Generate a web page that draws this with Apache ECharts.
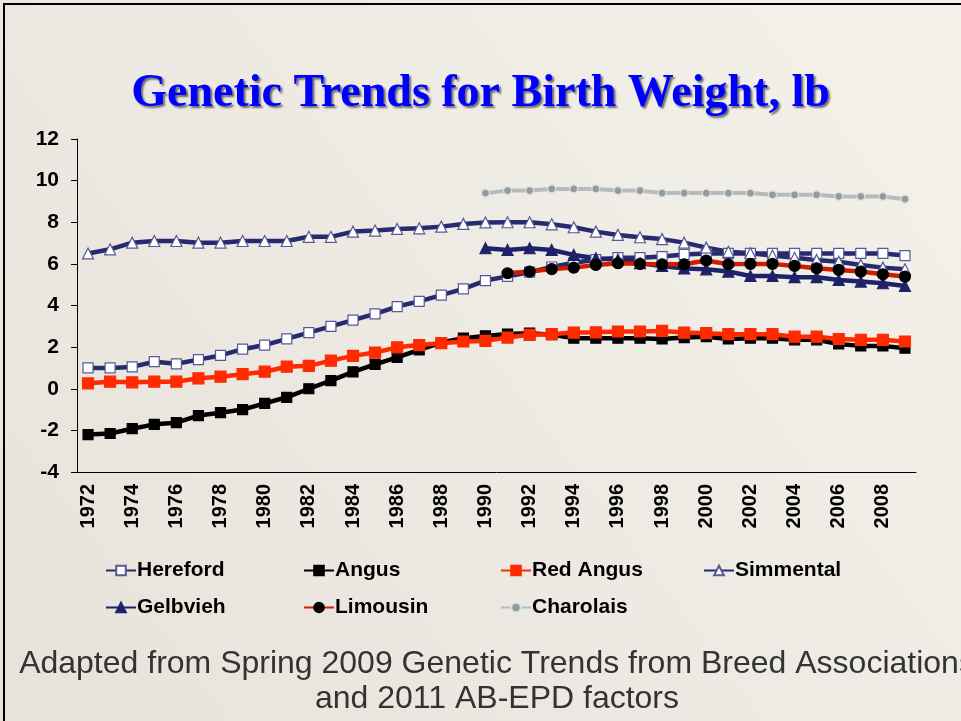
<!DOCTYPE html>
<html><head><meta charset="utf-8">
<script src="https://cdn.jsdelivr.net/npm/echarts@6/dist/echarts.min.js"></script>
<style>html,body{margin:0;padding:0;}#c{width:961px;height:721px;}</style>
</head><body><div id="c"></div>
<script>
const years = ['1972','1973','1974','1975','1976','1977','1978','1979','1980','1981',
  '1982','1983','1984','1985','1986','1987','1988','1989','1990','1991',
  '1992','1993','1994','1995','1996','1997','1998','1999','2000','2001',
  '2002','2003','2004','2005','2006','2007','2008','2009'];

const hereford = [1.0,1.0,1.05,1.3,1.2,1.4,1.6,1.9,2.1,2.4,
  2.7,3.0,3.3,3.6,3.95,4.2,4.5,4.8,5.2,5.4,
  5.6,5.85,6.05,6.2,6.3,6.3,6.35,6.45,6.5,6.5,
  6.5,6.5,6.5,6.5,6.5,6.5,6.5,6.4];
const angus = [-2.2,-2.15,-1.92,-1.71,-1.63,-1.29,-1.15,-1.0,-0.7,-0.41,
  0.0,0.39,0.81,1.17,1.51,1.87,2.22,2.43,2.54,2.63,
  2.67,2.6,2.43,2.43,2.43,2.43,2.39,2.46,2.5,2.39,
  2.43,2.43,2.35,2.35,2.15,2.06,2.06,1.95];
const redAngus = [0.26,0.34,0.31,0.34,0.34,0.5,0.58,0.7,0.82,1.06,
  1.1,1.35,1.58,1.74,1.99,2.1,2.19,2.27,2.3,2.46,
  2.59,2.62,2.7,2.71,2.75,2.75,2.78,2.7,2.67,2.62,
  2.62,2.62,2.5,2.5,2.39,2.35,2.35,2.27];
const simmental = [6.5,6.7,7.02,7.1,7.1,7.02,7.02,7.1,7.1,7.1,
  7.3,7.3,7.55,7.6,7.68,7.71,7.79,7.92,7.99,8.0,
  8.0,7.9,7.76,7.55,7.39,7.28,7.19,7.02,6.78,6.58,
  6.51,6.4,6.29,6.19,6.1,5.95,5.82,5.74];
const gelbvieh = [null,null,null,null,null,null,null,null,null,null,
  null,null,null,null,null,null,null,null,6.75,6.67,
  6.75,6.67,6.43,6.27,6.2,6.03,5.9,5.78,5.74,5.63,
  5.42,5.42,5.36,5.36,5.23,5.15,5.07,4.94];
const limousin = [null,null,null,null,null,null,null,null,null,null,
  null,null,null,null,null,null,null,null,null,5.55,
  5.63,5.75,5.82,5.95,6.03,6.0,5.98,5.98,6.16,5.98,
  6.0,6.0,5.9,5.79,5.71,5.63,5.5,5.39];
const charolais = [null,null,null,null,null,null,null,null,null,null,
  null,null,null,null,null,null,null,null,9.4,9.52,
  9.52,9.6,9.6,9.6,9.52,9.52,9.4,9.4,9.4,9.4,
  9.4,9.32,9.32,9.32,9.24,9.24,9.24,9.11];

const titleText = 'Genetic Trends for Birth Weight, lb';
const captionLines = ['Adapted from Spring 2009 Genetic Trends from Breed Associations', 'and 2011 AB-EPD factors'];

const NAVY = '#262a6e';
const SANS = '"Liberation Sans", Arial, sans-serif';

function mk(name, data, lineColor, symbol, size, fill, border, lw) {
  return {
    name, type: 'line', data, symbol, symbolSize: size,
    connectNulls: false,
    lineStyle: { color: lineColor, width: lw || 4.5 },
    itemStyle: { color: fill, borderColor: border, borderWidth: 1.2 },
    emphasis: { disabled: true },
    animation: false
  };
}

const series = [
  mk('Hereford', hereford, NAVY, 'rect', 10, '#ffffff', '#555a96'),
  mk('Angus', angus, '#000000', 'rect', 10, '#000000', '#000000'),
  mk('Red Angus', redAngus, '#ff2a00', 'rect', 11, '#ff2a00', '#ff2a00'),
  mk('Simmental', simmental, NAVY, 'triangle', 11, '#ffffff', '#555a96'),
  mk('Gelbvieh', gelbvieh, '#1f2266', 'triangle', 11, '#1f2266', '#1f2266'),
  mk('Limousin', limousin, '#d01c00', 'circle', 11, '#000000', '#000000'),
  mk('Charolais', charolais, '#b9b9b9', 'circle', 8, '#999999', '#cfe6ea', 4)
];

const legendPos = [
  ['Hereford', 105, 560], ['Angus', 303, 560], ['Red Angus', 500, 560], ['Simmental', 703, 560],
  ['Gelbvieh', 105, 597], ['Limousin', 303, 597], ['Charolais', 500, 597]
];
const legends = legendPos.map(([n, x, y]) => ({
  data: [n], left: x, top: y, padding: 0, itemWidth: 30, itemHeight: 12, itemGap: 0,
  textStyle: { fontFamily: SANS, fontSize: 21, fontWeight: 'bold', color: '#000', padding: [0,0,0,-4] },
  selectedMode: false
}));

const chart = echarts.init(document.getElementById('c'), null, { renderer: 'canvas' });
chart.setOption({
  animation: false,
  backgroundColor: {
    type: 'linear', x: 0, y: 1, x2: 1, y2: 0,
    colorStops: [{ offset: 0, color: '#e7e3db' }, { offset: 1, color: '#f4f1eb' }]
  },
  title: {
    text: titleText, left: 'center', top: 71, padding: 0,
    textStyle: {
      fontFamily: '"Liberation Serif", "Times New Roman", serif', fontSize: 46, fontWeight: 'bold',
      color: '#0000ff', textShadowColor: 'rgba(0,0,0,0.55)', textShadowBlur: 2,
      textShadowOffsetX: 2, textShadowOffsetY: 2
    }
  },
  legend: legends,
  grid: { left: 77, right: 45, top: 139, bottom: 249, containLabel: false },
  xAxis: {
    type: 'category', data: years, boundaryGap: true,
    axisLine: { onZero: false, lineStyle: { color: '#000', width: 1 } },
    axisTick: { interval: 0, length: 5, lineStyle: { color: '#000' } },
    axisLabel: { interval: 1, rotate: 90, margin: 12, fontFamily: SANS, fontSize: 20, fontWeight: 'bold', color: '#000' },
    splitLine: { show: false }
  },
  yAxis: {
    type: 'value', min: -4, max: 12, interval: 2,
    axisLine: { show: true, lineStyle: { color: '#000', width: 1 } },
    axisTick: { show: true, length: 6, lineStyle: { color: '#000' } },
    axisLabel: { margin: 18, fontFamily: SANS, fontSize: 21, fontWeight: 'bold', color: '#000' },
    splitLine: { show: false }
  },
  series,
  graphic: [
    { type: 'rect', shape: { x: 3, y: 3, width: 2, height: 718 }, style: { fill: '#000' } },
    { type: 'rect', shape: { x: 3, y: 3, width: 958, height: 2 }, style: { fill: '#000' } },
    { type: 'text', x: 497, y: 664, style: { text: captionLines[0], font: '32px "Liberation Sans", Arial, sans-serif', fill: '#333333', align: 'center', verticalAlign: 'middle' } },
    { type: 'text', x: 497, y: 699, style: { text: captionLines[1], font: '32px "Liberation Sans", Arial, sans-serif', fill: '#333333', align: 'center', verticalAlign: 'middle' } }
  ]
});
</script>
</body></html>
